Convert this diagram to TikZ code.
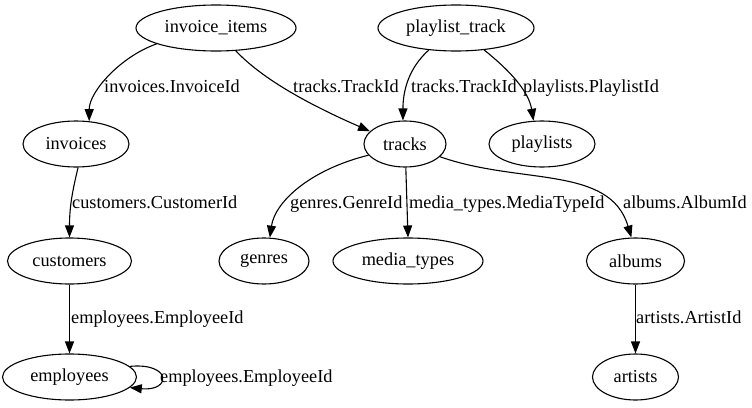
\documentclass[tikz,border=0pt]{standalone}
\usepackage{fontspec}
\setmainfont{Liberation Serif}
\usetikzlibrary{shapes.geometric,arrows.meta}
\begin{document}
\begin{tikzpicture}[x=1pt,y=-1pt,
  tbl/.style={draw,ellipse,line width=1.1pt,inner sep=0pt,minimum height=46pt,font=\fontsize{18.3}{22}\selectfont},
  lbl/.style={inner sep=0pt,anchor=base west,font=\fontsize{18.3}{22}\selectfont},
  arr/.style={line width=1.1pt,-{Triangle[length=12pt,width=9pt]}}]
\useasboundingbox (0,0) rectangle (752,407);
% nodes
\node[tbl,minimum width=160pt] (ii) at (216,28) {invoice\_items};
\node[tbl,minimum width=156pt] (pt) at (456,28) {playlist\_track};
\node[tbl,minimum width=106pt] (inv) at (76,144) {invoices};
\node[tbl,minimum width=82pt] (tr) at (405,144) {tracks};
\node[tbl,minimum width=106pt] (pl) at (542,144) {playlists};
\node[tbl,minimum width=124pt] (cu) at (69.5,261) {customers};
\node[tbl,minimum width=90pt] (ge) at (264,261) {genres};
\node[tbl,minimum width=150pt] (mt) at (408,261) {media\_types};
\node[tbl,minimum width=98pt] (al) at (635.5,261) {albums};
\node[tbl,minimum width=134pt] (em) at (69.5,377) {employees};
\node[tbl,minimum width=86pt] (ar) at (635.5,377) {artists};
% edges
\draw[arr] (ii.195) .. controls +(-35,12) and +(0,-30) .. (inv.60);
\draw[arr] (ii.311) .. controls +(30,32) and +(-50,-22) .. (tr.160);
\draw[arr] (pt.219) .. controls +(-20,18) and +(0,-30) .. (tr.95);
\draw[arr] (pt.322) .. controls +(25,20) and +(-5,-30) .. (pl.110);
\draw[arr] (inv.-85) .. controls +(-6,25) and +(0,-30) .. (cu.north);
\draw[arr] (tr.197) .. controls +(-60,15) and +(5,-35) .. (ge.76);
\draw[arr] (tr.-88) -- (mt.north);
\draw[arr] (tr.-20) .. controls (520,185) and (610,165) .. (al.100);
\draw[arr] (cu.south) -- (em.north);
\draw[arr] (al.south) -- (ar.north);
\draw[arr] (em.10) .. controls +(42,-4) and +(42,4) .. (em.-10);
% labels
\node[lbl] (l1) at (104,92) {invoices.InvoiceId};
\node[lbl] (l2) at (293,92) {tracks.TrackId};
\node[lbl] (l3) at (411,92) {tracks.TrackId};
\node[lbl] (l4) at (523,92) {playlists.PlaylistId};
\node[lbl] (l5) at (72,208) {customers.CustomerId};
\node[lbl] (l6) at (290,208) {genres.GenreId};
\node[lbl] (l7) at (409,208) {media\_types.MediaTypeId};
\node[lbl] (l8) at (623,208) {albums.AlbumId};
\node[lbl] (l9) at (71,323) {employees.EmployeeId};
\node[lbl] (l10) at (636,323) {artists.ArtistId};
\node[lbl] (l11) at (160,382) {employees.EmployeeId};
\end{tikzpicture}
\end{document}
